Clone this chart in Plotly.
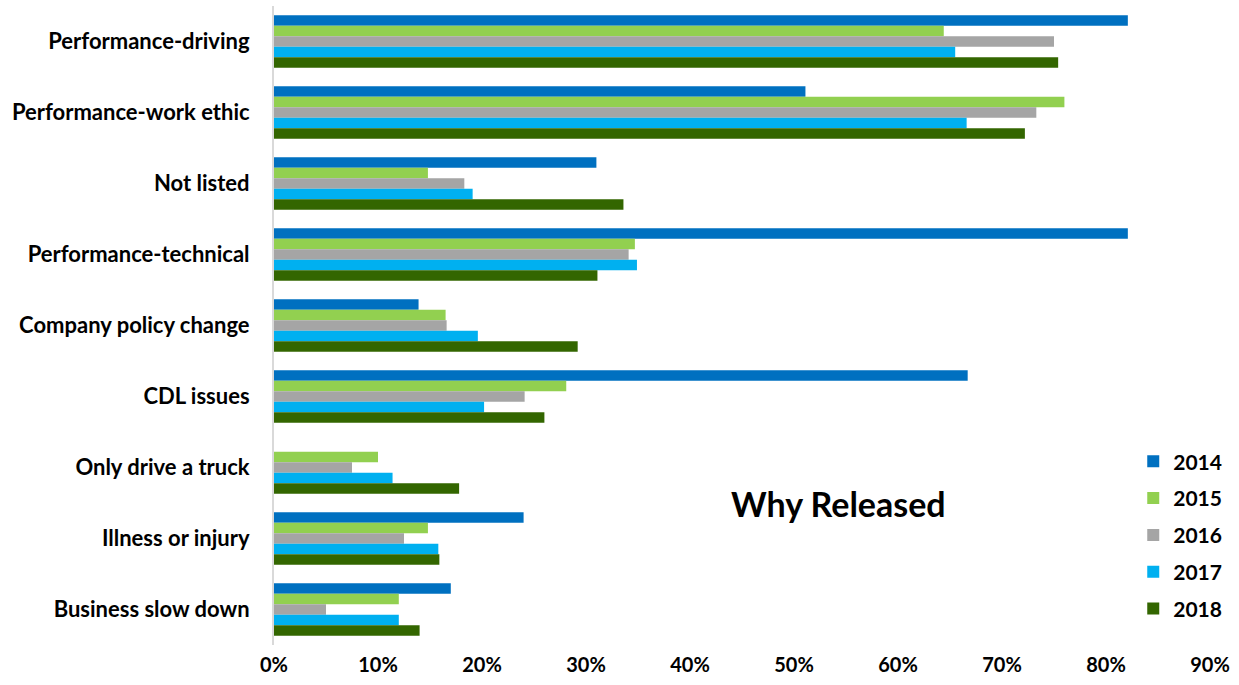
import plotly.graph_objects as go

categories = ["Performance-driving", "Performance-work ethic", "Not listed",
              "Performance-technical", "Company policy change", "CDL issues",
              "Only drive a truck", "Illness or injury", "Business slow down"]
years = ["2014", "2015", "2016", "2017", "2018"]
v2014 = [82.1, 51.1, 31.0, 82.1, 13.9, 66.7, None, 24.0, 17.0]
v2015 = [64.4, 76.0, 14.8, 34.7, 16.5, 28.1, 10.0, 14.8, 12.0]
v2016 = [75.0, 73.3, 18.3, 34.1, 16.6, 24.1, 7.5, 12.5, 5.0]
v2017 = [65.5, 66.6, 19.1, 34.9, 19.6, 20.2, 11.4, 15.8, 12.0]
v2018 = [75.4, 72.2, 33.6, 31.1, 29.2, 26.0, 17.8, 15.9, 14.0]
series = [v2014, v2015, v2016, v2017, v2018]
colors = ["#0070C0", "#92D050", "#A5A5A5", "#00B0F0", "#336600"]
x_ticks = [0, 10, 20, 30, 40, 50, 60, 70, 80, 90]
x_tick_labels = ["0%", "10%", "20%", "30%", "40%", "50%", "60%", "70%", "80%", "90%"]

FONT = "Lato"

fig = go.Figure()
for yr, vals, col in zip(years, series, colors):
    fig.add_trace(go.Bar(
        y=categories, x=vals, name=yr, orientation="h",
        marker=dict(color=col, line=dict(width=0)),
        legendgroup=yr,
    ))

fig.update_layout(
    width=1239, height=685, autosize=False,
    barmode="group", bargap=0.26, bargroupgap=0,
    plot_bgcolor="white", paper_bgcolor="white",
    margin=dict(l=274, r=29, t=6, b=40, autoexpand=False),
    font=dict(family=FONT, color="black", size=21, weight="bold"),
    legend=dict(
        x=0.918, y=0.319, xanchor="left", yanchor="top",
        font=dict(family=FONT, size=21, weight="bold"),
        traceorder="grouped", tracegroupgap=6.5,
        itemwidth=30, bgcolor="rgba(0,0,0,0)",
    ),
    annotations=[dict(
        text="Why Released", x=0.603, y=0.221, xref="paper", yref="paper",
        xanchor="center", yanchor="middle",
        showarrow=False, font=dict(family=FONT, size=34, weight="bold"),
    )],
)
fig.update_xaxes(range=[0, 90], tickvals=x_ticks, ticktext=x_tick_labels,
                 showgrid=False, zeroline=False, showline=False,
                 tickfont=dict(family=FONT, size=20, weight="bold"),
                 ticklabelstandoff=6)
fig.update_yaxes(autorange="reversed", showgrid=False, zeroline=False,
                 showline=True, linecolor="#d9d9d9", linewidth=2,
                 tickfont=dict(family=FONT, size=22, weight="bold"),
                 ticklabelstandoff=18)

fig.write_html("out.html")
